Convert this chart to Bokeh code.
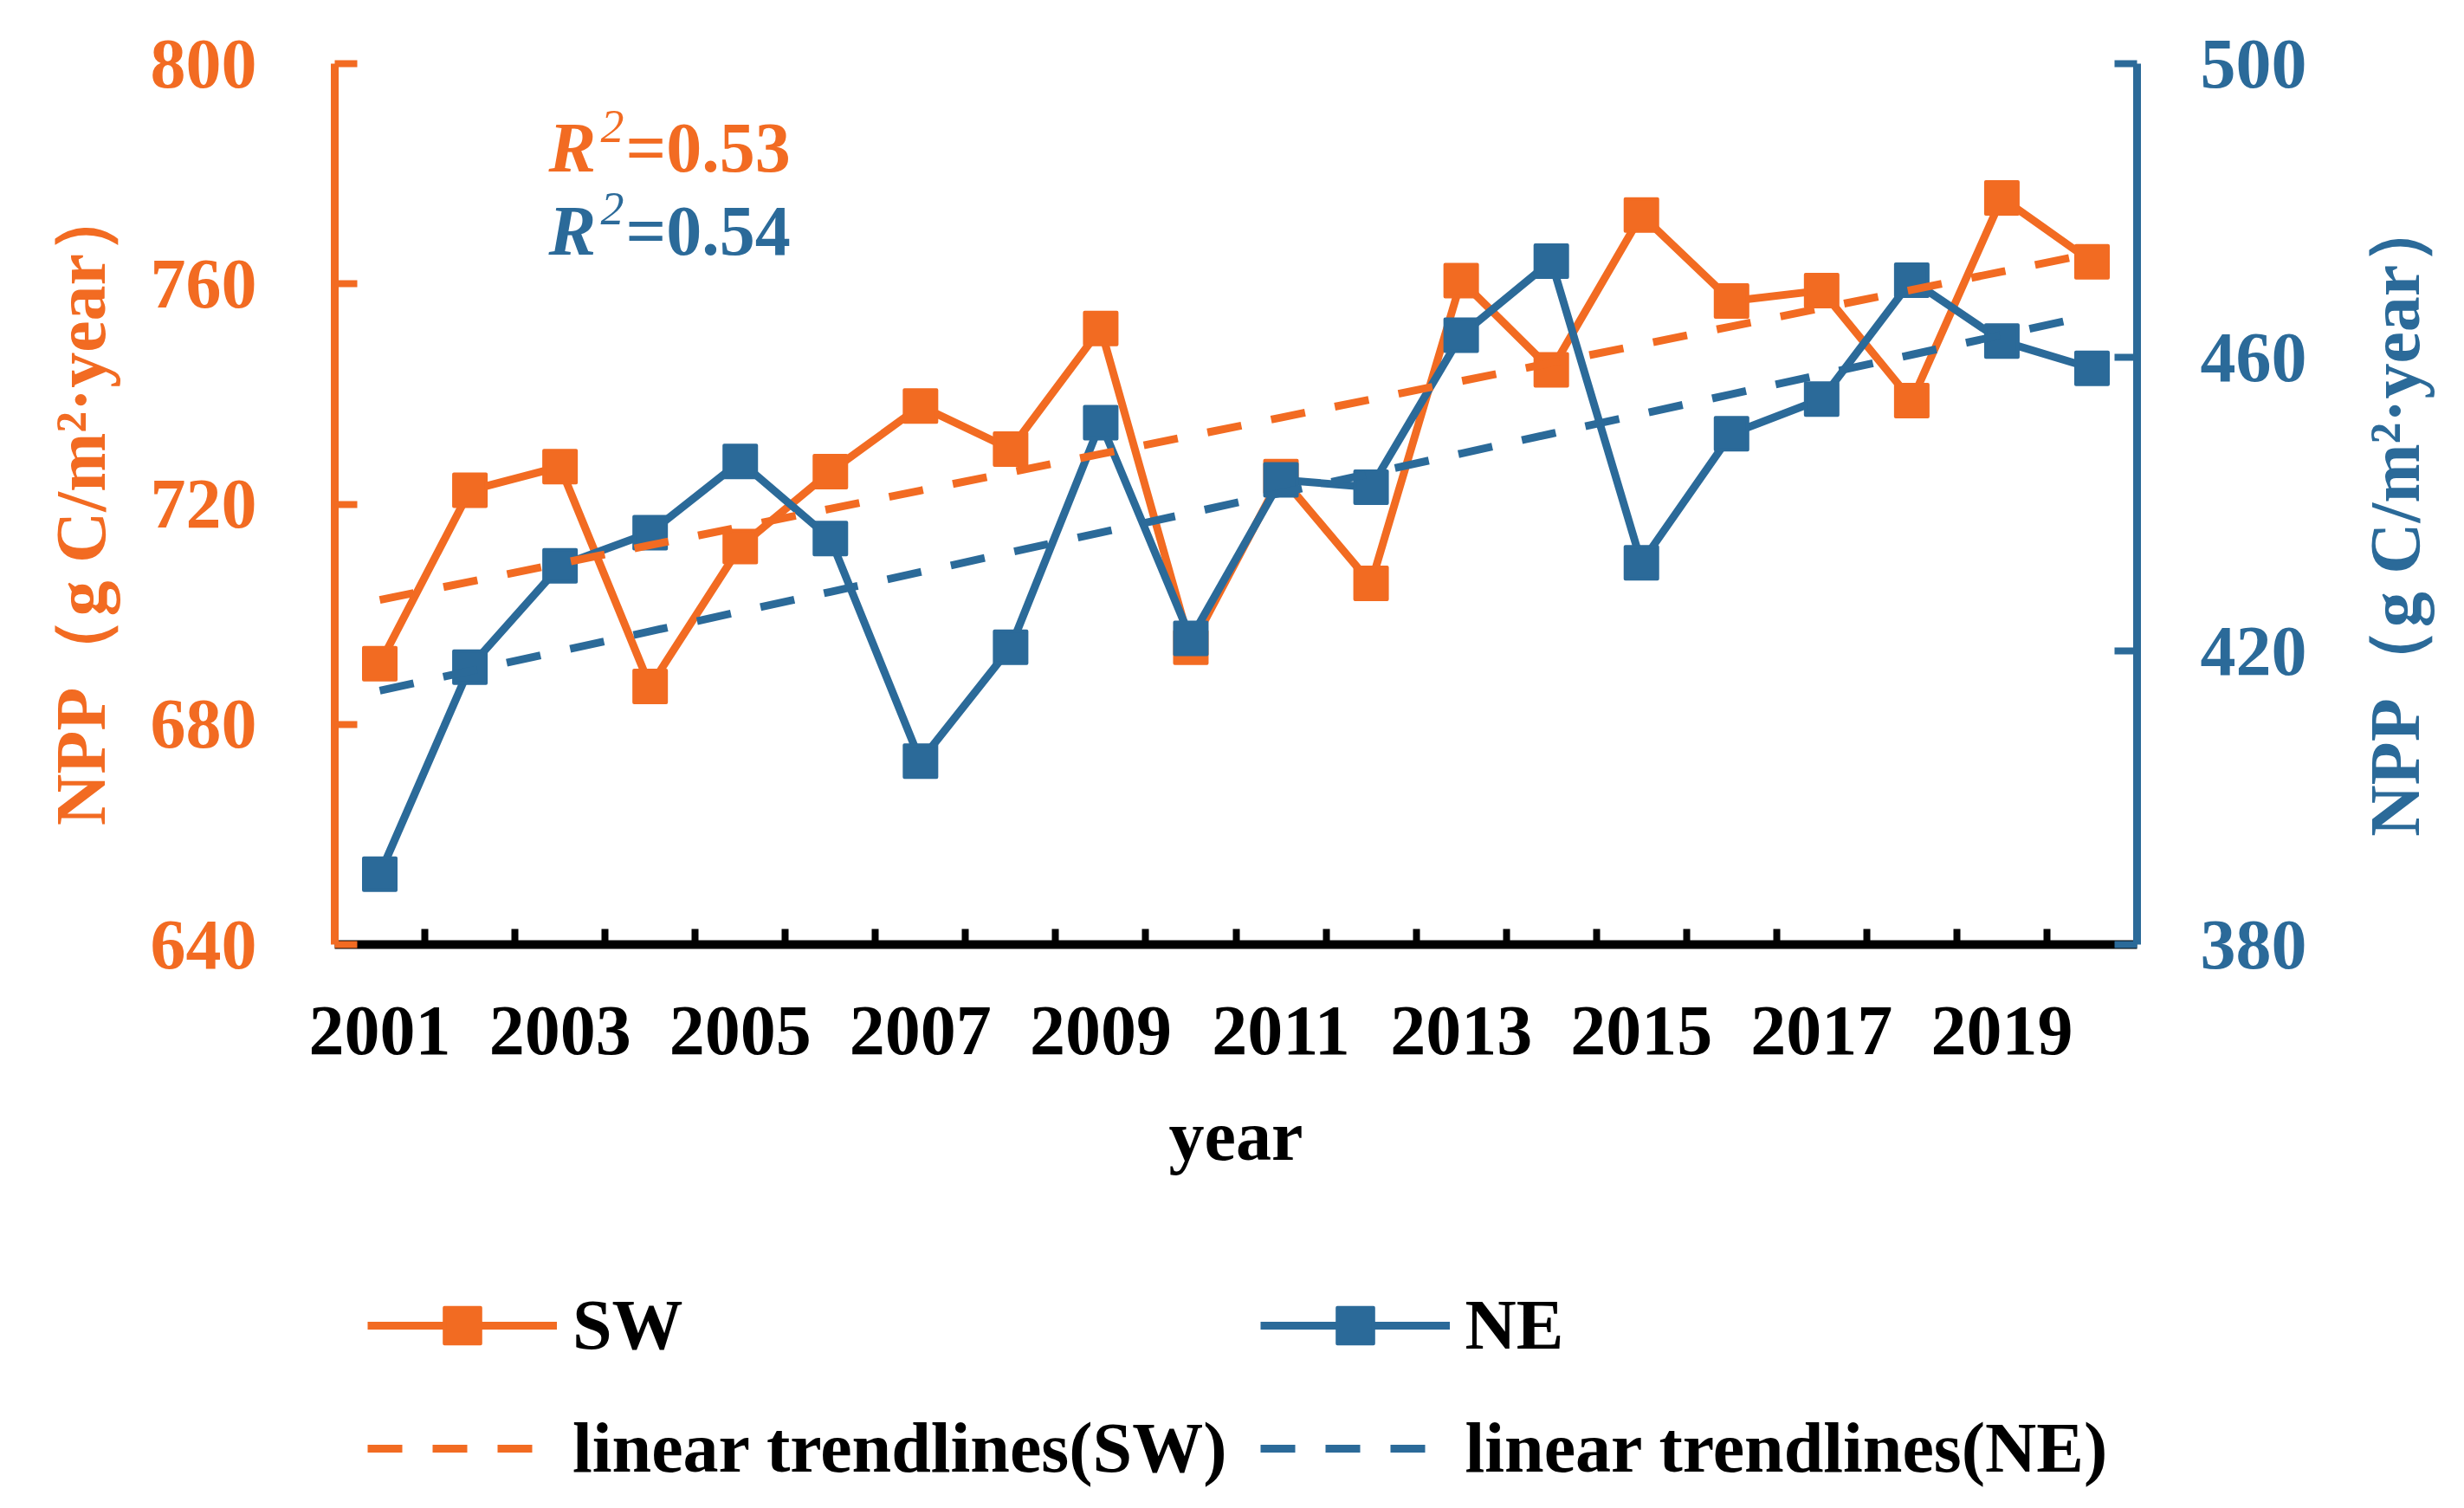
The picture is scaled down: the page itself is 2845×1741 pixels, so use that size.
import math
import numpy as np
from bokeh.plotting import figure
from bokeh.layouts import column, row
from bokeh.models import Range1d, LinearAxis, FixedTicker, Legend, LegendItem, Label, ColumnDataSource
from bokeh.embed import file_html
from bokeh.resources import INLINE

# ---------------- data ----------------
years = list(range(2001, 2021))
sw = [691.0, 722.5, 726.8, 686.9, 712.3, 725.9, 737.8, 730.0, 751.9, 694.0,
      725.0, 705.6, 760.6, 744.4, 772.5, 756.9, 758.8, 738.8, 775.6, 764.0]
ne = [389.6, 417.8, 431.6, 436.1, 445.8, 435.3, 405.0, 420.5, 451.1, 421.7,
      443.3, 442.3, 463.0, 473.1, 432.0, 449.6, 454.3, 470.5, 462.2, 458.5]
x_label_years = list(range(2001, 2020, 2))
x_boundaries = [y + 0.5 for y in range(2001, 2020)]
sw_ticks = [640, 680, 720, 760, 800]
ne_ticks = [380, 420, 460, 500]
r2_sw = "=0.53"
r2_ne = "=0.54"
series_names = ["SW", "NE", "linear trendlines(SW)", "linear trendlines(NE)"]
y_title = "NPP（g C/m²·year）"
x_title = "year"

# linear trendlines fitted from the data
sw_fit = np.polyval(np.polyfit(years, sw, 1), years)
ne_fit = np.polyval(np.polyfit(years, ne, 1), years)

ORANGE = "#F26B22"
BLUE = "#2B6A99"
FONT = "Liberation Serif"

W = 2829
WP = 2700            # main chart width; a narrow strip on the right holds the NE axis title
H1, H2 = 1410, 315
TOP, BOTTOM = 73, H1 - 1090

p = figure(width=WP, height=H1, output_backend="svg", toolbar_location=None,
           x_range=Range1d(2000.5, 2020.5), y_range=Range1d(640, 800),
           min_border_left=386, min_border_right=WP - 2467, min_border_top=TOP,
           min_border_bottom=BOTTOM)
p.extra_y_ranges = {"ne": Range1d(380, 500)}
p.grid.visible = False
p.outline_line_color = None

src = ColumnDataSource(dict(year=years, sw=sw, ne=ne, sw_fit=sw_fit, ne_fit=ne_fit))

line_sw = dict(line_color=ORANGE, line_width=9)
line_ne = dict(line_color=BLUE, line_width=9)
pts_sw = dict(marker="square", size=37, fill_color=ORANGE, line_color=ORANGE, line_width=4, line_join="round")
pts_ne = dict(marker="square", size=37, fill_color=BLUE, line_color=BLUE, line_width=4, line_join="round")
tr_sw = dict(line_color=ORANGE, line_width=9, line_dash="40 35")
tr_ne = dict(line_color=BLUE, line_width=9, line_dash="40 35")

p.line("year", "sw", source=src, **line_sw)
p.scatter("year", "sw", source=src, **pts_sw)
p.line("year", "ne", source=src, y_range_name="ne", **line_ne)
p.scatter("year", "ne", source=src, y_range_name="ne", **pts_ne)
p.line("year", "sw_fit", source=src, **tr_sw)
p.line("year", "ne_fit", source=src, y_range_name="ne", **tr_ne)

# ---------------- axes ----------------
xa = p.xaxis[0]
xa.ticker = FixedTicker(ticks=x_label_years, minor_ticks=x_boundaries)
xa.major_tick_line_color = None
xa.minor_tick_in = 18
xa.minor_tick_out = 0
xa.minor_tick_line_width = 8
xa.minor_tick_line_color = "black"
xa.axis_line_color = "black"
xa.axis_line_width = 10
xa.major_label_text_font = FONT
xa.major_label_text_font_style = "bold"
xa.major_label_text_font_size = "82px"
xa.major_label_text_color = "black"
xa.major_label_standoff = 66
xa.axis_label = x_title
xa.axis_label_text_font = FONT
xa.axis_label_text_font_style = "bold"
xa.axis_label_text_font_size = "82px"
xa.axis_label_text_color = "black"
xa.axis_label_standoff = 46

ya = p.yaxis[0]
ya.ticker = FixedTicker(ticks=sw_ticks)
ya.major_tick_in = 26
ya.major_tick_out = 0
ya.major_tick_line_width = 8
ya.major_tick_line_color = ORANGE
ya.minor_tick_line_color = None
ya.axis_line_color = ORANGE
ya.axis_line_width = 9
ya.major_label_text_font = FONT
ya.major_label_text_font_style = "bold"
ya.major_label_text_font_size = "82px"
ya.major_label_text_color = ORANGE
ya.major_label_standoff = 90
ya.axis_label = y_title
ya.axis_label_text_font = FONT
ya.axis_label_text_font_style = "bold"
ya.axis_label_text_font_size = "82px"
ya.axis_label_text_color = ORANGE
ya.axis_label_standoff = 32

ra = LinearAxis(y_range_name="ne", ticker=FixedTicker(ticks=ne_ticks))
ra.major_tick_in = 26
ra.major_tick_out = 0
ra.major_tick_line_width = 8
ra.major_tick_line_color = BLUE
ra.minor_tick_line_color = None
ra.axis_line_color = BLUE
ra.axis_line_width = 9
ra.major_label_text_font = FONT
ra.major_label_text_font_style = "bold"
ra.major_label_text_font_size = "82px"
ra.major_label_text_color = BLUE
ra.major_label_standoff = 73
p.add_layout(ra, "right")

# ---------------- R² annotations ----------------
def r2_label(y_base, y_sup, text, color):
    common = dict(text_font=FONT, text_color=color, text_baseline="alphabetic",
                  x_units="data", y_units="data")
    p.add_layout(Label(x=2002.874, y=y_base, text="R", text_font_style="bold italic",
                       text_font_size="82px", **common))
    p.add_layout(Label(x=2002.874, y=y_sup, x_offset=60, text="2", text_font_style="italic",
                       text_font_size="54px", **common))
    p.add_layout(Label(x=2002.874, y=y_base, x_offset=89, text=text, text_font_style="bold",
                       text_font_size="82px", **common))

r2_label(784.7, 788.6, r2_sw, ORANGE)
r2_label(769.7, 773.6, r2_ne, BLUE)

# ---------------- right-hand title strip (reads bottom to top) ----------------
r = figure(width=W - WP, height=H1, output_backend="svg", toolbar_location=None,
           x_range=Range1d(0, 1), y_range=Range1d(640, 800),
           x_axis_type=None, y_axis_type=None,
           min_border_left=0, min_border_right=0, min_border_top=TOP, min_border_bottom=BOTTOM)
r.grid.visible = False
r.outline_line_color = None
r.add_layout(Label(x=0.5, y=718.0, text=y_title, angle=math.pi / 2,
                   text_align="center", text_baseline="middle",
                   text_font=FONT, text_font_style="bold", text_font_size="82px",
                   text_color=BLUE))

# ---------------- legend (separate strip below the chart) ----------------
q = figure(width=W, height=H2, output_backend="svg", toolbar_location=None,
           x_range=Range1d(0, 1), y_range=Range1d(0, 1),
           x_axis_type=None, y_axis_type=None,
           min_border_left=386, min_border_right=W - 2467, min_border_top=0, min_border_bottom=0)
q.grid.visible = False
q.outline_line_color = None
# same data/styles; the series fall outside this strip's ranges, only the legend shows
l1 = q.line("year", "sw", source=src, **line_sw)
s1 = q.scatter("year", "sw", source=src, **pts_sw)
l2 = q.line("year", "ne", source=src, **line_ne)
s2 = q.scatter("year", "ne", source=src, **pts_ne)
t1 = q.line("year", "sw_fit", source=src, **tr_sw)
t2 = q.line("year", "ne_fit", source=src, **tr_ne)

items = [LegendItem(label=series_names[0], renderers=[l1, s1]),
         LegendItem(label=series_names[1], renderers=[l2, s2]),
         LegendItem(label=series_names[2], renderers=[t1]),
         LegendItem(label=series_names[3], renderers=[t2])]
legend = Legend(items=items, location=(38, 1), orientation="horizontal", ncols=2,
                padding=0, margin=0, border_line_color=None, background_fill_alpha=0,
                glyph_width=219, glyph_height=104, label_height=104, label_standoff=18,
                spacing=38, label_text_font=FONT, label_text_font_style="bold",
                label_text_font_size="82px", label_text_color="black")
q.add_layout(legend, "center")

page = column(row(p, r, spacing=0), q, spacing=0)
open("out.html", "w").write(file_html(page, INLINE))
